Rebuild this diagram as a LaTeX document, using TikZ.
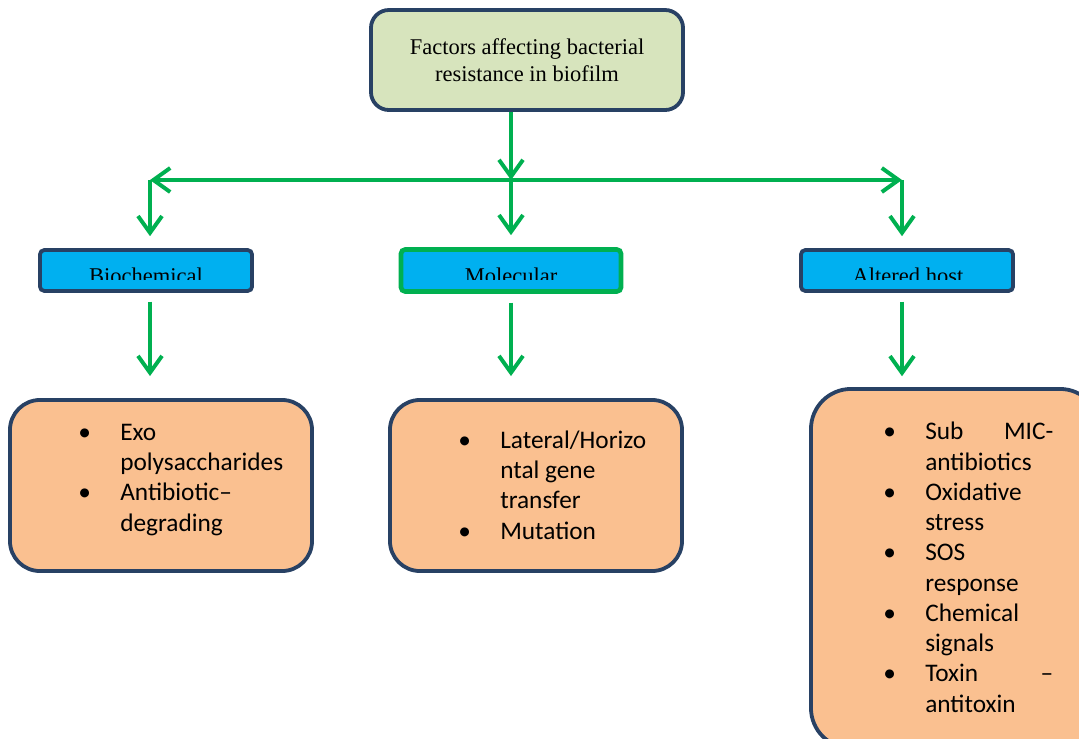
\documentclass[tikz,border=0pt]{standalone}
\usepackage{fontspec}
\setmainfont{Carlito}
\newfontfamily\timesfont{Liberation Serif}
\usetikzlibrary{arrows.meta, positioning}

\definecolor{arrgreen}{RGB}{0,176,80}
\definecolor{navyline}{RGB}{40,65,100}
\definecolor{topfill}{RGB}{215,228,189}
\definecolor{catblue}{RGB}{0,176,240}
\definecolor{listfill}{RGB}{250,192,144}

\newcommand{\itm}{\llap{\makebox[1.05cm][l]{\textbullet}}}

\begin{document}
\begin{tikzpicture}[x=0.025cm, y=-0.025cm,
    topbox/.style   = {draw=navyline, line width=2.7pt, fill=topfill, rounded corners=0.45cm, minimum width=7.8cm, minimum height=2.5cm, align=center, font=\timesfont\fontsize{16}{19.4}\selectfont},
    catbox/.style   = {draw=navyline, line width=2.7pt, fill=catblue, rounded corners=3pt, minimum width=5.3cm, minimum height=1.02cm},
    cattext/.style  = {anchor=base, inner sep=0pt, font=\timesfont\fontsize{16}{19.4}\selectfont},
    listbox/.style  = {draw=navyline, line width=2.7pt, fill=listfill, rounded corners=0.75cm},
    listtext/.style = {anchor=base west, align=left, inner sep=0pt, font=\fontsize{18}{21.5}\selectfont},
    arr/.style      = {->, draw=arrgreen, line width=2.8pt},
    >={Straight Barb[length=0.42cm, width=0.6cm]}
]
\clip (0,0) rectangle (1079,738);

% ---- Top ----
\node[topbox] (factors) at (527,60) {Factors affecting bacterial\\resistance in biofilm};

% ---- Branch points ----
\coordinate (hub) at (511,180);
\coordinate (hl)  at (150,180);
\coordinate (hr)  at (902,180);

% ---- Categories ----
\node[catbox] (bio)  at (146,270.5) {};
\node[catbox, draw=arrgreen, line width=3.3pt, minimum width=5.5cm, minimum height=1.05cm] (mol) at (511,270.5) {};
\node[catbox] (host) at (907,270.5) {};

\begin{scope}
  \clip (40,250) rectangle (1013,279);
  \node[cattext] (biotxt)  at (146,283) {Biochemical};
  \node[cattext] (moltxt)  at (511,283) {Molecular};
  \node[cattext] (hosttxt) at (908,283) {Altered host};
\end{scope}

% ---- Lists (anchored at last baseline) ----
\node[listbox, minimum width=7.55cm, minimum height=4.275cm] (biolist) at (161,485.5) {};
\node[listbox, minimum width=7.3cm, minimum height=4.275cm]  (mollist) at (536,485.5) {};
\node[listbox, rounded corners=1cm, minimum width=7.225cm, minimum height=8.975cm] (hostlist) at (955.5,568.5) {};

\node[listtext] (biotext)  at (120,531) {\itm Exo\\polysaccharides\\\itm Antibiotic–\\degrading};
\node[listtext] (moltext)  at (500,539) {\itm Lateral/Horizo\\ntal gene\\transfer\\\itm Mutation};
\node[listtext] (hosttext) at (925,712) {\itm\makebox[3.2cm][s]{Sub MIC-}\\antibiotics\\\itm Oxidative\\stress\\\itm SOS\\response\\\itm Chemical\\signals\\\itm\makebox[3.2cm][s]{Toxin –}\\antitoxin};

% ---- Arrows ----
\draw[arr] (factors.south -| hub) -- (hub);
\draw[arr, <->] (hl) -- (hr);
\draw[arr, shorten >=0.3cm] (hl)  -- (hl |- bio.north);
\draw[arr, shorten >=0.3cm] (hub) -- (hub |- mol.north);
\draw[arr, shorten >=0.3cm] (hr)  -- (hr |- host.north);

\draw[arr, shorten <=0.22cm, shorten >=0.55cm] (hl |- bio.south)  -- (hl |- biolist.north);
\draw[arr, shorten <=0.22cm, shorten >=0.55cm] (hub |- mol.south) -- (hub |- mollist.north);
\draw[arr, shorten <=0.22cm, shorten >=0.27cm] (hr |- host.south) -- (hr |- hostlist.north);

\end{tikzpicture}
\end{document}
